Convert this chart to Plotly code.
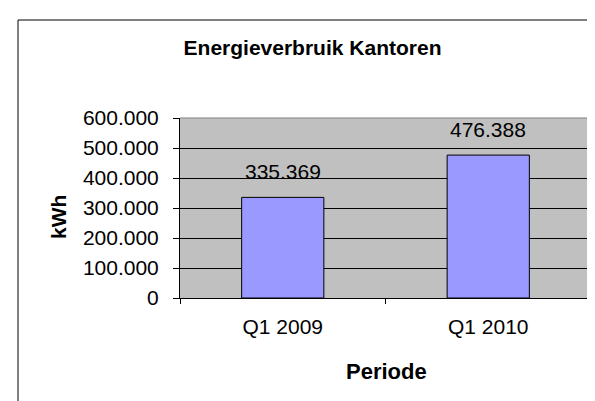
import plotly.graph_objects as go

categories = ["Q1 2009", "Q1 2010"]
values = [335369, 476388]
y_ticks = [0, 100000, 200000, 300000, 400000, 500000, 600000]

W, H = 595, 401
L, R, T, B = 172, 583, 110, 290  # plot area in px

def px(x):
    return (x - L) / (R - L)

def py(y):
    return (B - y) / (B - T)

FONT = "Liberation Sans, Arial, sans-serif"

fig = go.Figure()
fig.add_trace(go.Bar(
    x=categories, y=values,
    marker=dict(color="#9999FF", line=dict(color="#000000", width=1)),
    hoverinfo="skip",
))

annotations = []
for c, v in zip(categories, values):
    annotations.append(dict(
        x=c, y=v, xref="x", yref="y",
        text=f"{v:,}".replace(",", "."),
        showarrow=False, yanchor="middle", yshift=26,
        font=dict(family=FONT, size=21, color="#000000"),
    ))
annotations.append(dict(
    x=px(50), y=py(209), xref="paper", yref="paper",
    text="<b>kWh</b>", textangle=-90, showarrow=False,
    xanchor="center", yanchor="middle",
    font=dict(family=FONT, size=21, color="#000000"),
))
annotations.append(dict(
    x=px(378), y=py(363), xref="paper", yref="paper",
    text="<b>Periode</b>", showarrow=False,
    xanchor="center", yanchor="middle",
    font=dict(family=FONT, size=22, color="#000000"),
))

shapes = [
    # outer chart frame (left and top edges visible)
    dict(type="line", xref="paper", yref="paper",
         x0=px(10), x1=px(10), y0=py(12), y1=py(401), line=dict(color="#000000", width=1)),
    dict(type="line", xref="paper", yref="paper",
         x0=px(10), x1=px(595), y0=py(12), y1=py(12), line=dict(color="#000000", width=1)),
    # plot area top/right border in gray
    dict(type="line", xref="paper", yref="paper",
         x0=0, x1=1, y0=1, y1=1, line=dict(color="#808080", width=1)),
    dict(type="line", xref="paper", yref="paper",
         x0=1, x1=1, y0=0, y1=1, line=dict(color="#808080", width=1)),
]

fig.update_layout(
    width=W, height=H,
    margin=dict(l=L, r=W - R, t=T, b=H - B, pad=0),
    paper_bgcolor="#FFFFFF",
    plot_bgcolor="#C0C0C0",
    separators=",.",
    showlegend=False,
    bargap=0.6,
    title=dict(
        text="<b>Energieverbruik Kantoren</b>",
        x=304.5 / W, xanchor="center", xref="container",
        y=1 - 40 / H, yanchor="middle", yref="container",
        font=dict(family=FONT, size=21, color="#000000"),
    ),
    annotations=annotations,
    shapes=shapes,
    xaxis=dict(
        showline=True, linecolor="#000000", linewidth=1,
        ticks="outside", ticklen=5, tickcolor="#000000", tickson="boundaries",
        showgrid=False, zeroline=False,
        tickfont=dict(family=FONT, size=21, color="#000000"),
        ticklabelstandoff=10,
    ),
    yaxis=dict(
        range=[0, 600000], tickvals=y_ticks, tickformat=",d",
        showline=True, linecolor="#000000", linewidth=1,
        ticks="outside", ticklen=6, tickcolor="#000000",
        showgrid=True, gridcolor="#000000", gridwidth=1,
        zeroline=False,
        tickfont=dict(family=FONT, size=21, color="#000000"),
        ticklabelstandoff=10,
    ),
)

fig.write_html("out.html")
